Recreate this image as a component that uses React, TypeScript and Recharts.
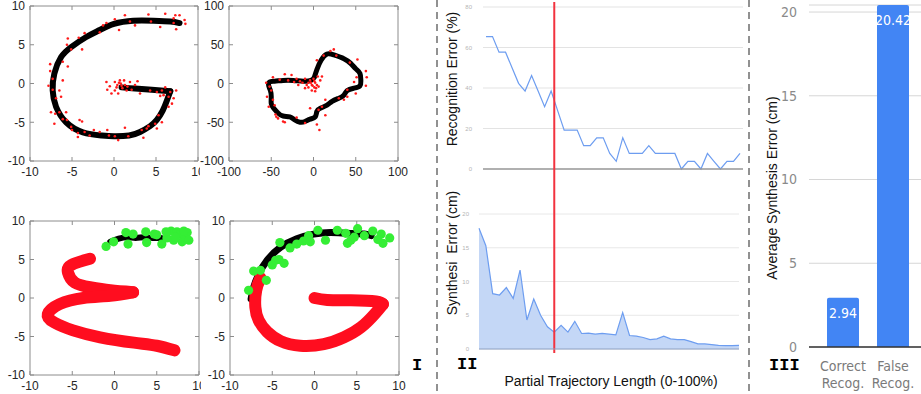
import React from "react";
import {
  ScatterChart,
  Scatter,
  LineChart,
  Line,
  AreaChart,
  Area,
  BarChart,
  Bar,
  XAxis,
  YAxis,
  CartesianGrid,
  ReferenceLine,
  LabelList,
} from "recharts";

type XY = [number, number];

// ---- panel I, top left: ground truth "G" and noisy samples
const gTruthBody: XY[] = [
  [7.8, 7.8], [6.7, 8.0], [4.7, 8.1], [2.3, 8.1], [0, 7.7], [-1.7, 6.9], [-3.3, 6.0],
  [-5.1, 4.7], [-6.3, 3.4], [-7.1, 1.3], [-7.3, -0.9], [-6.9, -3.0], [-5.7, -5.0],
  [-3.7, -6.3], [-1.5, -6.7], [0, -6.8], [1.8, -6.7], [3.1, -6.25], [4.3, -5.5],
  [5.1, -4.7], [5.8, -3.5], [6.3, -2.2], [6.7, -1.0],
];
const gTruthBar: XY[] = [[6.7, -1.0], [4.5, -0.8], [2.5, -0.65], [0.9, -0.5]];
const gSamples: XY[] = [
  [0.1, 8.3], [1.3, 8.8], [0.6, 6.9], [2.5, 7.5], [4.1, 8.9], [4.4, 8.0], [5.5, 7.3], [6.1, 9.0],
  [7.1, 8.4], [7.3, 8.8], [7.8, 8.8], [8.4, 8.2], [8.5, 7.7], [7.4, 7.0], [7.1, 7.8], [1.9, 8.0],
  [-0.9, 7.8], [-1.3, 7.5], [-1.7, 6.6], [-3.5, 6.5], [-4.2, 5.9], [-5.5, 5.8], [-5.6, 5.0],
  [-5.1, 4.4], [-3.8, 4.4], [-6.1, 2.8], [-5.5, 2.2], [-7.6, 2.5], [-7.6, 1.6], [-6.1, 0.4],
  [-7.3, 0.6], [-7.8, -0.3], [-7.3, -0.8], [-6.5, -0.9], [-6.3, -1.7], [-6.9, -1.9], [-7.5, -3.7],
  [-7.0, -3.9], [-6.5, -3.7], [-5.7, -3.7], [-7.1, -5.2], [-6.1, -4.6], [-5.6, -4.7], [-5.1, -5.6],
  [-5.0, -6.0], [-4.1, -4.7], [-3.8, -4.9], [-4.3, -6.4], [-4.3, -6.9], [-3.5, -6.25], [-2.9, -6.7],
  [-2.4, -6.0], [-1.7, -6.25], [-0.8, -6.0], [-0.6, -6.7], [0.1, -6.8], [0.5, -7.3], [1.3, -5.7],
  [1.7, -6.8], [3.5, -7.0], [3.3, -6.0], [3.9, -5.8], [4.1, -5.5], [5.1, -5.8], [4.9, -5.2],
  [5.7, -5.0], [5.3, -4.1], [6.5, -3.0], [6.9, -2.6], [6.5, -1.7], [7.4, -0.9], [7.1, -1.9],
  [5.9, -1.5], [6.1, -0.5], [5.5, -1.6], [6.7, -1.1], [5.7, -0.9], [-0.9, 0.2], [-0.8, -0.8],
  [-0.5, -0.35], [0.1, 0.2], [0.3, -0.5], [0.7, 0.4], [0.8, 0], [1.0, -0.6], [1.3, -0.2],
  [1.5, -0.9], [1.9, 0.2], [2.1, -0.8], [2.5, -0.2], [2.8, 0.3], [3.1, -1.3], [4.3, -0.9],
  [5.1, -1.1], [0.1, -0.9], [0.5, -1.3], [-0.3, -1.3], [1.2, 0.4], [0.4, -0.2], [0.9, -0.3],
  [1.6, -0.4], [0.6, 0.1],
];

// ---- panel I, top right: loop shape
const loopTruth: XY[] = [
  [1, 8], [4, 18], [9, 30], [16, 38], [24, 37], [36, 32], [44, 26], [50, 19], [55, 13], [56, 4],
  [55, -3], [48, -6], [40, -9], [36, -15], [30, -19], [22, -23], [16, -28], [8, -32], [4, -36],
  [2, -43], [-4, -46], [-10, -49], [-16, -50], [-22, -47], [-28, -43], [-36, -42], [-42, -38],
  [-47, -32], [-50, -26], [-50, -17], [-51, -9], [-53, -3], [-52, 2], [-46, 3], [-36, 4],
  [-24, 4], [-12, 3], [-3, 4], [1, 8],
];
const loopSamples: XY[] = [
  [-56, 1], [-52, -4], [-55, -17], [-53, -30], [-48, -21], [-46, -28], [-44, -43], [-42, -45],
  [-36, -49], [-34, 12], [-26, 11], [-30, 4], [-20, 6], [-18, -2], [-16, 3], [-10, 6], [-8, -2],
  [-6, -5], [-4, 4], [-2, -2], [0, 6], [2, 1], [3, -6], [5, 9], [8, 4], [10, 9], [-2, -9], [1, -5],
  [-10, -6], [4, 30], [12, 36], [20, 42], [24, 44], [27, 36], [43, 27], [52, 31], [62, 16],
  [63, 8], [62, -3], [51, 8], [48, 2], [40, -8], [50, -13], [40, -17], [36, -21], [30, -19],
  [14, -21], [14, -41], [6, -34], [10, -30], [-4, -32], [-10, -51], [4, -53], [7, -60], [-20, -44],
  [-48, 8], [-34, -50], [-3, 1], [1, 3], [-1, -3], [4, -2], [-6, 1], [2, -10], [6, -4], [-13, 1],
  [-23, 2], [-40, 5], [-50, -9], [-45, -40],
];

// ---- panel I, bottom left: partial input, observed points, synthesis
const partialLeft: XY[] = [[-0.5, 7.3], [0.5, 7.7], [1.5, 7.9], [2.5, 7.8], [3.5, 7.9], [4.5, 7.8], [5.5, 7.8]];
const observedLeft: XY[] = [
  [-1, 6.7], [-0.1, 7.3], [1.35, 8.5], [1.6, 7.0], [2.2, 8.3], [3.7, 8.6], [3.8, 7.2], [4.7, 8.3],
  [5.6, 7.0], [6.2, 7.8], [6.7, 8.7], [7.0, 7.5], [7.4, 8.6], [7.8, 8.3], [8.0, 7.3], [8.4, 7.9],
  [8.6, 8.5], [8.8, 7.5], [6.1, 8.6], [5.0, 8.2], [7.2, 7.9], [8.2, 8.7],
];
const synthLeftA: XY[] = [[-2.9, 5.1], [-5.1, 4.3], [-5.5, 3.3], [-4.7, 2.0], [-2.9, 1.4], [-0.5, 1.0], [2.2, 0.75]];
const synthLeftB: XY[] = [
  [2.2, 0.75], [-0.5, 0.3], [-3.7, 0], [-6.5, -0.8], [-7.9, -2.1], [-7.1, -3.2], [-4.9, -4.2],
  [-1.7, -5.1], [2.3, -5.8], [5.0, -6.2], [7.1, -6.8],
];

// ---- panel I, bottom right
const partialRight: XY[] = [
  [-7.5, -0.1], [-7.2, 1.4], [-6.6, 3.1], [-5.6, 4.9], [-4.0, 6.6], [-2.1, 7.7], [-0.1, 8.3],
  [1.9, 8.5], [3.9, 8.4], [5.9, 8.3], [6.7, 8.1],
];
const observedRight: XY[] = [
  [-7.8, 1.0], [-7.2, 3.5], [-6.4, 3.6], [-5.7, 2.3], [-5.0, 4.3], [-4.6, 4.9], [-4.2, 5.0],
  [-3.6, 4.5], [-4.1, 7.2], [-2.9, 6.5], [-2.1, 7.0], [-1.3, 7.4], [-0.7, 8.1], [0.4, 8.8],
  [-0.5, 7.3], [1.3, 7.5], [2.7, 8.8], [3.7, 8.4], [4.3, 7.5], [5.1, 9.0], [4.7, 7.9], [5.9, 8.1],
  [6.9, 8.7], [7.9, 8.3], [8.1, 7.1], [8.9, 7.8], [7.5, 7.6], [3.9, 7.1],
];
const synthRightA: XY[] = [
  [-6.4, 2.6], [-6.9, 1.0], [-7.0, -1.2], [-6.6, -2.9], [-5.6, -4.4], [-4.0, -5.6], [-1.7, -6.2],
  [1.1, -6.0], [3.5, -5.1], [5.5, -3.8], [7.1, -2.1], [8.1, -0.8],
];
const synthRightB: XY[] = [[8.1, -0.8], [7.3, -0.45], [4.3, -0.3], [1.5, -0.25], [0, 0]];

const smallTicks = [-10, -5, 0, 5, 10];
const wideTicks = [-100, -50, 0, 50, 100];

// ---- panel II
const recogError = [
  65.4, 65.4, 57.7, 57.7, 50.0, 42.3, 38.5, 46.2, 38.5, 30.8, 38.5, 28.8, 19.2, 19.2, 19.2, 11.5,
  11.5, 15.4, 15.4, 7.7, 3.8, 15.4, 7.7, 7.7, 7.7, 11.5, 7.7, 7.7, 7.7, 7.7, 0, 3.8, 3.8, 0, 7.7,
  3.8, 0, 3.8, 3.8, 7.7,
];
const synthError = [
  17.9, 15.3, 8.2, 8.0, 9.1, 7.5, 11.7, 4.3, 7.4, 5.0, 3.3, 2.5, 3.5, 2.5, 4.1, 2.3, 2.35, 2.2,
  2.3, 2.2, 2.1, 5.4, 2.0, 1.9, 1.7, 1.4, 1.5, 1.9, 1.5, 1.4, 1.4, 1.1, 0.75, 0.75, 0.65, 0.55,
  0.5, 0.5, 0.55,
];
const cutoffIndex = 11;
const recogTicks = [0, 20, 40, 60, 80];
const synthTicks = [0, 5, 10, 15, 20];

// ---- panel III
const barLabels = ["Correct\nRecog.", "False\nRecog."];
const barValues = [2.94, 20.42];
const barTicks = [0, 5, 10, 15, 20];

const SANS = "'Liberation Sans', Arial, sans-serif";
const NARROW = "'Liberation Sans Narrow', 'DejaVu Sans Condensed', Roboto, sans-serif";
const MONO = "'Liberation Mono', 'DejaVu Sans Mono', monospace";

const toPts = (a: XY[]) => a.map(([x, y]) => ({ x, y }));

const noDot = () => <g />;
const redDot = (p: any) => <circle cx={p.cx} cy={p.cy} r={1.3} fill="#ff1a1a" />;
const greenDot = (p: any) => <circle cx={p.cx} cy={p.cy} r={4.6} fill="#35ee35" />;

function curve(key: string, pts: XY[], color: string, width: number) {
  return (
    <Scatter
      key={key}
      xAxisId="b"
      yAxisId="l"
      data={toPts(pts)}
      shape={noDot}
      line={{ stroke: color, strokeWidth: width, strokeLinecap: "round", strokeLinejoin: "round" }}
      lineJointType="natural"
      isAnimationActive={false}
    />
  );
}

function dots(key: string, pts: XY[], shape: any) {
  return (
    <Scatter key={key} xAxisId="b" yAxisId="l" data={toPts(pts)} shape={shape} isAnimationActive={false} />
  );
}

type PanelProps = {
  left: number;
  top: number;
  w: number;
  h: number;
  lim: number;
  ticks: number[];
  children: React.ReactNode;
};

// axes are 1px thick (recharts skips 0-sized axes), margins are reduced by that pixel
function TrajPanel({ left, top, w, h, lim, ticks, children }: PanelProps) {
  const padL = 29, padT = 8, padR = 14, padB = 26;
  const frame = { stroke: "#8c8c8c" };
  const label = { fill: "#262626", fontSize: 12, fontFamily: SANS };
  const blank = () => "";
  const shared = {
    type: "number" as const,
    domain: [-lim, lim],
    ticks,
    allowDataOverflow: true,
    interval: 0 as const,
    tickSize: -4,
    axisLine: frame,
    tickLine: frame,
  };
  return (
    <div style={{ position: "absolute", left: left - padL, top: top - padT, background: "#fff" }}>
      <ScatterChart
        width={w + padL + padR}
        height={h + padT + padB}
        margin={{ top: padT - 1, right: padR - 1, bottom: padB - 1, left: padL - 1 }}
      >
        <XAxis xAxisId="b" dataKey="x" height={1} tickMargin={10} tick={label} {...shared} />
        <XAxis xAxisId="t" orientation="top" dataKey="x" height={1} tickFormatter={blank} {...shared} />
        <YAxis yAxisId="l" dataKey="y" width={1} tickMargin={9} tick={label} {...shared} />
        <YAxis yAxisId="r" orientation="right" dataKey="y" width={1} tickFormatter={blank} {...shared} />
        {children}
      </ScatterChart>
    </div>
  );
}

function CatTick(props: any) {
  const { x, y, payload } = props;
  const lines = String(payload.value).split("\n");
  return (
    <text x={x} y={y} textAnchor="middle" fill="#7a7a7a" fontSize={14} fontFamily={NARROW}>
      {lines.map((t, i) => (
        <tspan key={i} x={x} dy={i === 0 ? 24 : 17}>
          {t}
        </tspan>
      ))}
    </text>
  );
}

export default function App() {
  const recogData = recogError.map((v, i) => ({ i, v }));
  const synthData = synthError.map((v, i) => ({ i, v }));
  const barData = barLabels.map((name, i) => ({ name, value: barValues[i] }));

  return (
    <div
      style={{
        position: "absolute",
        left: 0,
        top: 0,
        width: 921,
        height: 394,
        background: "#fff",
        overflow: "hidden",
      }}
    >
      {/* I */}
      <TrajPanel left={30} top={6} w={168} h={155} lim={10} ticks={smallTicks}>
        {curve("g1", gTruthBody, "#000", 6)}
        {curve("g2", gTruthBar, "#000", 6)}
        {dots("gs", gSamples, redDot)}
      </TrajPanel>
      <TrajPanel left={229} top={6} w={169} h={155} lim={100} ticks={wideTicks}>
        {curve("l1", loopTruth, "#000", 5)}
        {dots("ls", loopSamples, redDot)}
      </TrajPanel>
      <TrajPanel left={30} top={221} w={169} h={154} lim={10} ticks={smallTicks}>
        {curve("p3", partialLeft, "#000", 6)}
        {curve("r3a", synthLeftA, "#ff0d1f", 12)}
        {curve("r3b", synthLeftB, "#ff0d1f", 12)}
        {dots("o3", observedLeft, greenDot)}
      </TrajPanel>
      <TrajPanel left={230} top={221} w={169} h={154} lim={10} ticks={smallTicks}>
        {curve("p4", partialRight, "#000", 7)}
        {curve("r4a", synthRightA, "#ff0d1f", 12)}
        {curve("r4b", synthRightB, "#ff0d1f", 12)}
        {dots("o4", observedRight, greenDot)}
      </TrajPanel>

      {/* II */}
      <div style={{ position: "absolute", left: 440, top: 0 }}>
        <LineChart width={310} height={180} data={recogData} margin={{ top: 7, right: 7, bottom: 10, left: 42 }}>
          <CartesianGrid vertical={false} stroke="#e3e3e3" />
          <XAxis
            dataKey="i"
            height={1}
            tick={false}
            tickLine={false}
            axisLine={{ stroke: "#9a9a9a", strokeWidth: 1.3 }}
            padding={{ left: 3, right: 3 }}
          />
          <YAxis
            width={1}
            domain={[0, 80]}
            ticks={recogTicks}
            tickLine={false}
            axisLine={false}
            tickMargin={5}
            tick={{ fontSize: 6, fill: "#b5b5b5", fontFamily: SANS }}
          />
          <Line dataKey="v" stroke="#6d9df0" strokeWidth={1.2} dot={false} isAnimationActive={false} />
        </LineChart>
      </div>
      <div style={{ position: "absolute", left: 440, top: 0 }}>
        <AreaChart width={310} height={394} data={synthData} margin={{ top: 214, right: 11, bottom: 44, left: 38 }}>
          <CartesianGrid vertical={false} stroke="#e8e8e8" />
          <XAxis
            dataKey="i"
            type="number"
            domain={[0, synthError.length - 1]}
            height={1}
            tick={false}
            tickLine={false}
            axisLine={{ stroke: "#8ea0c2" }}
          />
          <YAxis
            width={1}
            domain={[0, 20]}
            ticks={synthTicks}
            tickLine={false}
            axisLine={false}
            tickMargin={4}
            tick={{ fontSize: 6, fill: "#b5b5b5", fontFamily: SANS }}
          />
          <Area
            dataKey="v"
            type="linear"
            stroke="#6d9df0"
            strokeWidth={1.2}
            fill="#c4d7f6"
            fillOpacity={1}
            isAnimationActive={false}
          />
          <ReferenceLine
            segment={[
              { x: cutoffIndex, y: -0.6 },
              { x: cutoffIndex, y: 51.4 },
            ]}
            stroke="#f2333f"
            strokeWidth={2}
            ifOverflow="visible"
          />
        </AreaChart>
      </div>

      {/* III */}
      <div style={{ position: "absolute", left: 750, top: 0 }}>
        <BarChart width={171} height={394} data={barData} margin={{ top: 5, right: 0, bottom: 46, left: 58 }}>
          <CartesianGrid vertical={false} stroke="#d6d6d6" />
          <XAxis
            dataKey="name"
            height={1}
            tickLine={false}
            tickSize={0}
            tickMargin={0}
            interval={0}
            axisLine={{ stroke: "#333", strokeWidth: 1.3 }}
            padding={{ left: 9, right: 3 }}
            tick={<CatTick />}
          />
          <YAxis
            width={1}
            domain={[0, "dataMax"]}
            ticks={barTicks}
            tickLine={false}
            axisLine={false}
            tickMargin={6}
            tick={{ fontSize: 14, fill: "#8a8a8a", fontFamily: NARROW }}
          />
          <Bar dataKey="value" fill="#4285f4" barSize={32} radius={[2, 2, 0, 0]} isAnimationActive={false}>
            <LabelList dataKey="value" position="insideTop" offset={10} fill="#fff" fontSize={14} fontFamily={NARROW} />
          </Bar>
        </BarChart>
      </div>

      {/* separators, titles and section marks */}
      <svg width={921} height={394} style={{ position: "absolute", left: 0, top: 0, pointerEvents: "none" }}>
        <line x1={437} y1={0} x2={437} y2={394} stroke="#6e6e6e" strokeWidth={1.5} strokeDasharray="7 5" />
        <line x1={749} y1={0} x2={749} y2={394} stroke="#6e6e6e" strokeWidth={1.5} strokeDasharray="7 5" />
        <g fontFamily={SANS} fontSize={14} fill="#111">
          <text x={452} y={79} transform="rotate(-90 452 79)" textAnchor="middle" dominantBaseline="central">
            Recognition Error (%)
          </text>
          <text x={452} y={253} transform="rotate(-90 452 253)" textAnchor="middle" dominantBaseline="central">
            {"Synthesi\u00a0\u00a0Error (cm)"}
          </text>
          <text x={611} y={386} textAnchor="middle">
            Partial Trajectory Length (0-100%)
          </text>
          <text x={772} y={188} transform="rotate(-90 772 188)" textAnchor="middle" dominantBaseline="central">
            Average Synthesis Error (cm)
          </text>
        </g>
        <g fontFamily={MONO} fontWeight="bold" fontSize={17} fill="#000">
          <text x={412} y={370}>I</text>
          <text x={457} y={369}>II</text>
          <text x={769} y={370}>III</text>
        </g>
      </svg>
    </div>
  );
}
